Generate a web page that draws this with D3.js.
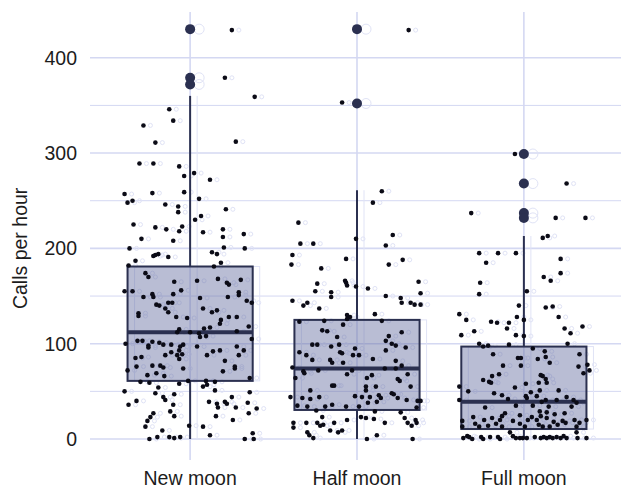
<!DOCTYPE html>
<html>
<head>
<meta charset="utf-8">
<script src="https://cdn.jsdelivr.net/npm/d3@7"></script>
<style>
  body { margin: 0; background: #fff; }
  text { font-family: "Liberation Sans", Arial, sans-serif; fill: #1c1c1c; }
</style>
</head>
<body>
<div id="chart"></div>
<script>
var categories = ["New moon", "Half moon", "Full moon"];
var yTicks = [0, 100, 200, 300, 400];
var yMinorTicks = [50, 150, 250, 350];

// box stats: [lower whisker, q1, median, q3, upper whisker]
var boxStats = [
    [0, 61, 112, 181, 360],
    [0, 30.5, 74, 125, 261],
    [0, 10.5, 39, 97, 213]
];

var outliers = [
    [430, 379, 372],
    [430, 352],
    [299, 268, 237, 232]
];

// jittered observations: [calls per hour, jitter (-63..63 across the box)]
var newMoonCalls = [
    [429,42],[379,35],[359,65],[346,-21],[334,-17],[329,-47],[311,-35],[312,46],[289,-51],[289,-37],[286,-11],[276,-6],[279,4],[272,20],
    [257,-66],[258,-38],[259,-6],[248,-63],[250,-58],[252,9],[246,-25],[244,-12],[238,-12],[241,36],[234,11],[230,5],[225,-57],[222,-35],
    [220,-24],[218,-11],[223,-8],[217,13],[220,33],[212,33],[215,54],[210,-49],[208,-17],[200,-61],[201,34],[200,55],
    [193,-35],[194,-32],[192,-37],[191,-22],[196,22],[194,27],[185,31],[187,-55],[182,-62],[181,24],
    [174,-45],[170,-42],[165,-16],[166,7],[168,28],[164,37],[162,39],[167,51],[155,-66],[155,-58],[152,-38],[149,-37],[149,-47],[152,-17],
    [156,-9],[148,10],[149,38],[154,49],[151,49],[145,57],[143,62],[141,-34],[140,-31],[143,-22],[143,-18],[137,-25],[133,-22],[132,-52],
    [129,-52],[137,13],[133,22],[135,27],[128,47],[128,39],[125,31],[121,30],[118,59],[128,-14],[127,-3],[115,-11],[112,-13],[112,0],
    [111,9],[116,14],[117,20],[113,47],[107,10],[108,16],[105,62],[103,-53],[103,-48],[100,-65],[102,-38],[98,-42],[96,-42],[101,-31],
    [99,-27],[99,-19],[97,-10],[99,-7],[93,-11],[91,-19],[88,-25],[88,-13],[89,-8],[84,-11],[97,7],[92,23],[88,17],[93,30],[97,47],
    [93,54],[88,49],[82,35],[85,-55],[86,-49],[76,-54],[77,-38],[77,-30],[75,-27],[72,-63],[74,-7],[76,45],[74,45],[71,33],[67,-43],
    [69,-34],[66,-26],[61,-2],[61,16],[64,60],[60,-50],[59,-41],[54,-32],[58,-11],[55,13],[57,17],[60,25],[51,25],[50,-66],[48,-35],
    [47,-16],[44,42],[49,60],[44,-27],[41,-25],[40,-54],[36,-62],[36,-17],[39,19],[37,27],[39,35],[37,37],[33,46],[38,58],[32,67],
    [33,28],[29,-20],[24,-16],[24,26],[27,59],[27,-37],[23,-40],[19,-43],[20,43],[13,-45],[9,-28],[13,13],[14,-1],[4,20],[6,63],
    [0,-41],[2,-33],[2,-21],[1,-16],[2,-10],[0,55],[0,64]
];

var halfMoonCalls = [
    [429,52],[353,-15],[260,25],[248,16],[214,36],[203,29],[210,-1],[205,-44],[227,-59],[205,-57],[193,-65],[183,-66],[189,-11],[179,-36],
    [183,32],[188,46],[166,-12],[164,-11],[161,-10],[160,-1],[163,-40],[155,-42],[154,-26],[149,-26],[158,11],[165,62],[153,64],[150,29],
    [148,44],[143,45],[143,54],[141,58],[141,64],[145,-65],[140,-54],[143,-50],[137,-38],[130,-10],[128,-7],[131,18],
    [123,-58],[124,-33],[120,-14],[126,-10],[124,25],[114,-35],[113,-30],[107,-20],[112,45],[108,32],[103,29],[100,35],[98,39],[96,49],
    [99,-45],[99,-40],[97,-26],[99,-18],[93,29],[95,-2],[91,-58],[88,-51],[83,-45],[83,-27],[80,-25],[91,-17],[90,-15],[88,-4],[88,2],
    [84,16],[80,-14],[82,39],[77,45],[74,39],[75,-65],[71,-54],[69,-53],[72,-39],[72,-5],[74,28],[68,51],[68,-10],[67,15],[64,10],
    [64,-62],[63,41],[61,43],[56,-25],[56,-23],[55,9],[55,19],[51,-47],[51,9],[55,54],[46,22],[43,24],[48,35],[47,37],[43,41],[45,-2],
    [44,5],[44,13],[44,-67],[43,-55],[42,-47],[44,-38],[38,11],[39,20],[41,50],[40,61],[40,64],[35,-60],[34,-50],[34,-32],[36,-25],
    [34,-11],[34,2],[33,60],[30,-41],[29,18],[28,44],[23,4],[22,9],[21,17],[22,48],[20,59],[20,-10],[17,-23],[23,-35],[17,-64],[17,-51],
    [17,-40],[14,-37],[15,-34],[17,51],[14,55],[17,60],[12,-64],[7,-50],[4,-48],[9,-27],[7,-19],[9,-15],[4,20],[1,-44],[0,10],[0,56],[17,28]
];

var fullMoonCalls = [
    [299,-9],[268,43],[237,-53],[232,32],[232,62],[211,19],[213,24],[195,-45],[195,-26],[195,-8],[185,-38],[189,37],[174,37],[170,20],
    [166,27],[164,-44],[152,-45],[155,3],[140,-5],[138,22],[139,29],[131,-65],[125,-58],[123,-33],[122,-27],[122,-15],[128,-7],[125,0],
    [128,35],[118,59],[116,41],[111,47],[109,-63],[113,-50],[116,-17],[109,-8],[108,0],
    [100,44],[100,-45],[97,-41],[98,-36],[89,-31],[99,-15],[95,9],[92,21],[89,56],[85,-6],[85,-3],[84,14],[86,22],[80,26],[77,-21],
    [77,-3],[76,55],[78,64],[72,66],[69,60],[68,-25],[66,-32],[67,17],[66,19],[63,22],[62,-41],[60,-35],[59,-33],[59,15],[59,23],[58,2],
    [55,-65],[54,-9],[49,7],[51,16],[51,35],[50,-56],[48,-30],[46,-22],[45,2],[43,3],[45,13],[41,-65],[42,-16],[39,18],[41,22],[41,33],
    [41,50],[38,53],[44,43],[35,-8],[33,-39],[35,9],[34,25],[34,48],[29,16],[28,23],[27,-19],[24,-22],[25,-4],[23,8],[24,17],[26,31],
    [27,41],[23,-51],[22,-32],[20,-40],[20,-24],[19,-11],[20,4],[20,13],[22,23],[18,30],[19,39],[20,51],[20,63],[19,-62],[13,-62],
    [16,-49],[13,-45],[14,-36],[16,-28],[13,-22],[16,-4],[13,1],[15,15],[13,19],[13,26],[15,34],[17,42],[13,53],[17,56],
    [1,-61],[3,-57],[2,-55],[0,-52],[2,-43],[0,-41],[2,-34],[2,-26],[0,-24],[7,-14],[3,-11],[1,-8],[1,-4],[1,-1],[1,3],[2,11],[1,17],
    [2,20],[1,23],[2,26],[1,29],[2,33],[1,37],[3,40],[1,43],[7,53],[1,54],[1,63]
];

var groups = [newMoonCalls, halfMoonCalls, fullMoonCalls];

var width = 621, height = 490;
var panel = {left: 90, right: 624, top: 12, bottom: 460};

var svg = d3.select("#chart").append("svg")
    .attr("width", width)
    .attr("height", height);

var x = d3.scalePoint()
    .domain(categories)
    .range([panel.left, panel.right])
    .padding(0.6);

var y = d3.scaleLinear()
    .domain([-22, 448])
    .range([panel.bottom, panel.top]);

var boxHalf = x.step() * 0.375;
var jitter = d3.scaleLinear().domain([-63, 63]).range([-boxHalf, boxHalf]);

var grid = "#d4d8f2";
var ink = "#2b3050";

// grid
svg.append("g").selectAll("line.minor")
    .data(yMinorTicks)
    .enter().append("line")
    .attr("x1", panel.left).attr("x2", width)
    .attr("y1", function(d) { return y(d); })
    .attr("y2", function(d) { return y(d); })
    .attr("stroke", grid).attr("stroke-width", 1);

svg.append("g").selectAll("line.major")
    .data(yTicks)
    .enter().append("line")
    .attr("x1", panel.left).attr("x2", width)
    .attr("y1", function(d) { return y(d); })
    .attr("y2", function(d) { return y(d); })
    .attr("stroke", grid).attr("stroke-width", 1.6);

svg.append("g").selectAll("line")
    .data(categories)
    .enter().append("line")
    .attr("x1", function(d) { return x(d); })
    .attr("x2", function(d) { return x(d); })
    .attr("y1", panel.top).attr("y2", panel.bottom)
    .attr("stroke", grid).attr("stroke-width", 1.6);

// faint offset echo seen in the reference
var ghost = svg.append("g").attr("transform", "translate(7,0)")
    .attr("fill", "none").attr("stroke", "#e0e3f6");

categories.forEach(function(c, i) {
    var s = boxStats[i], cx = x(c);
    ghost.append("line")
        .attr("x1", cx).attr("x2", cx)
        .attr("y1", y(s[4])).attr("y2", y(s[0]));
    ghost.append("rect")
        .attr("x", cx - boxHalf).attr("width", 2 * boxHalf)
        .attr("y", y(s[3])).attr("height", y(s[1]) - y(s[3]));
    ghost.selectAll(null)
        .data(groups[i])
        .enter().append("circle")
        .attr("cx", function(d) { return cx + jitter(d[1]); })
        .attr("cy", function(d) { return y(d[0]); })
        .attr("r", 2);
    ghost.selectAll(null)
        .data(outliers[i])
        .enter().append("circle")
        .attr("cx", cx + 2)
        .attr("cy", function(d) { return y(d); })
        .attr("r", 5);
});

// boxes
categories.forEach(function(c, i) {
    var s = boxStats[i], cx = x(c);
    var g = svg.append("g");

    g.append("line")
        .attr("x1", cx).attr("x2", cx)
        .attr("y1", y(s[3])).attr("y2", y(s[4]))
        .attr("stroke", ink).attr("stroke-width", 2);
    g.append("line")
        .attr("x1", cx).attr("x2", cx)
        .attr("y1", y(s[0])).attr("y2", y(s[1]))
        .attr("stroke", ink).attr("stroke-width", 2);

    g.append("rect")
        .attr("x", cx - boxHalf).attr("width", 2 * boxHalf)
        .attr("y", y(s[3])).attr("height", y(s[1]) - y(s[3]))
        .attr("fill", "rgba(100,108,160,0.45)")
        .attr("stroke", ink).attr("stroke-width", 2);

    g.append("line")
        .attr("x1", cx - boxHalf).attr("x2", cx + boxHalf)
        .attr("y1", y(s[2])).attr("y2", y(s[2]))
        .attr("stroke", ink).attr("stroke-width", 4);

    g.selectAll("circle.out")
        .data(outliers[i])
        .enter().append("circle")
        .attr("cx", cx)
        .attr("cy", function(d) { return y(d); })
        .attr("r", 5)
        .attr("fill", ink);
});

// jittered points
categories.forEach(function(c, i) {
    var cx = x(c);
    svg.append("g").selectAll("circle")
        .data(groups[i])
        .enter().append("circle")
        .attr("cx", function(d) { return cx + jitter(d[1]); })
        .attr("cy", function(d) { return y(d[0]); })
        .attr("r", 2.3)
        .attr("fill", "#0b0b16");
});

// axes labels
svg.append("g").selectAll("text")
    .data(yTicks)
    .enter().append("text")
    .attr("x", 77)
    .attr("y", function(d) { return y(d); })
    .attr("dy", "0.36em")
    .attr("text-anchor", "end")
    .style("font-size", "19.5px")
    .text(function(d) { return d; });

svg.append("g").selectAll("text")
    .data(categories)
    .enter().append("text")
    .attr("x", function(d) { return x(d); })
    .attr("y", 485)
    .attr("text-anchor", "middle")
    .style("font-size", "19.5px")
    .text(function(d) { return d; });

svg.append("text")
    .attr("transform", "translate(27," + y(200) + ") rotate(-90)")
    .attr("text-anchor", "middle")
    .style("font-size", "19.5px")
    .text("Calls per hour");
</script>
</body>
</html>
